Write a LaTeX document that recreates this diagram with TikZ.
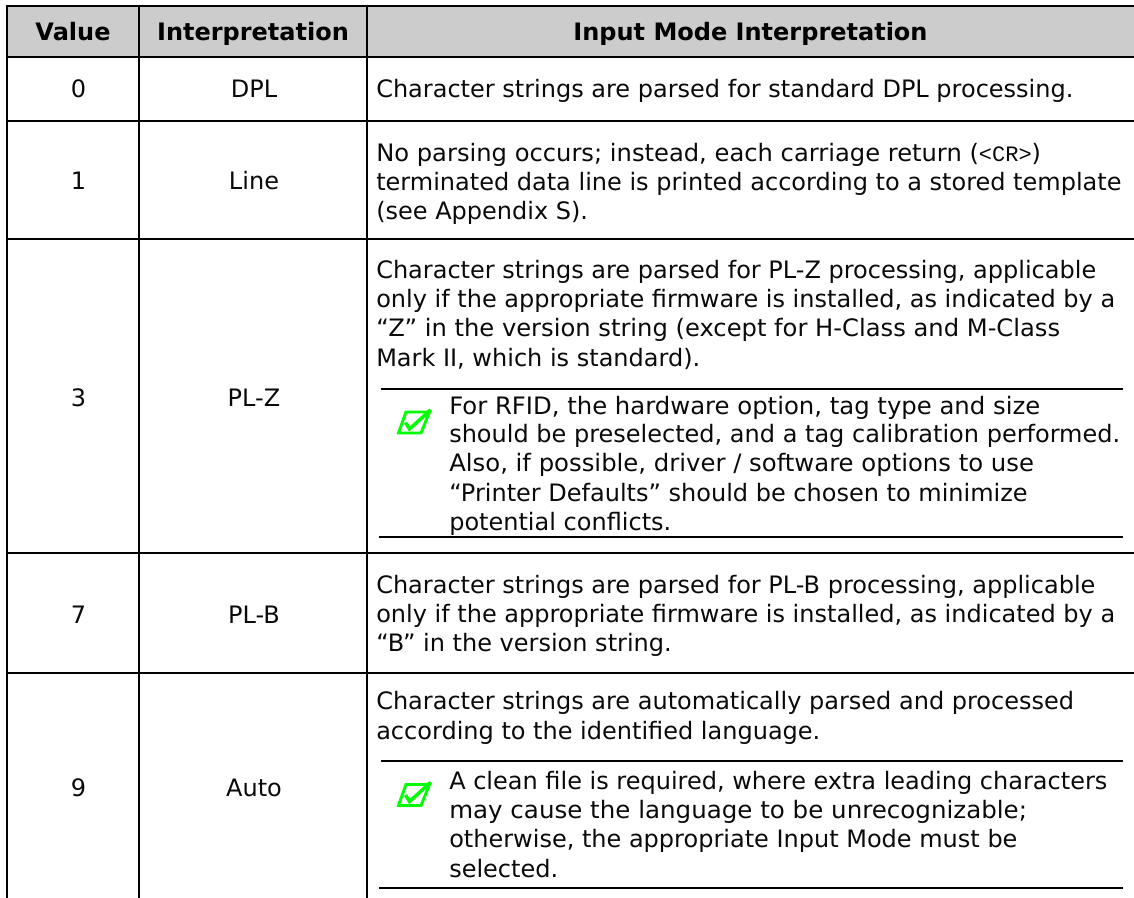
\documentclass[tikz,border=0pt]{standalone}
\usepackage{graphicx}
\usepackage{fontspec}
\setmainfont{DejaVu Sans}
\newfontfamily\crfont{Liberation Mono}
\definecolor{headgray}{RGB}{204,204,204}
\definecolor{checkgreen}{RGB}{0,255,0}
\definecolor{inkblack}{RGB}{10,10,10}
\newcommand{\widened}[2]{\scalebox{#1}[1]{#2}}
\tikzset{
  rulefull/.style={line width=1.5pt,draw=black},
  rulenote/.style={line width=1.5pt,draw=black},
  bodytext/.style={anchor=base west,inner sep=0pt,font=\fontsize{18pt}{22pt}\selectfont,text=inkblack},
  celltext/.style={anchor=base,inner sep=0pt,font=\fontsize{18pt}{22pt}\selectfont,text=inkblack},
  headtext/.style={anchor=base,inner sep=0pt,font=\fontsize{18pt}{22pt}\selectfont\bfseries,text=black},
  checkbox/.style={draw=checkgreen,line width=2.2pt,line join=miter},
  checktick/.style={draw=checkgreen,line width=2.6pt},
}
\begin{document}
\begin{tikzpicture}[x=0.75pt,y=-0.75pt]
\useasboundingbox (0,0) rectangle (1134,898);
\fill[headgray] (7,7) rectangle (1134,56);
% horizontal rules
\draw[rulefull] (6,6) -- (1134,6);
\draw[rulefull] (6,56.7) -- (1134,56.7);
\draw[rulefull] (6,120.7) -- (1134,120.7);
\draw[rulefull] (6,239) -- (1134,239);
\draw[rulefull] (6,552.7) -- (1134,552.7);
\draw[rulefull] (6,672.7) -- (1134,672.7);
% vertical rules
\draw[rulefull] (6.7,5) -- (6.7,898);
\draw[rulefull] (139.2,5) -- (139.2,898);
\draw[rulefull] (366.7,5) -- (366.7,898);
% note rules
\draw[rulenote] (381,389) -- (1123,389);
\draw[rulenote] (379,536.7) -- (1123,536.7);
\draw[rulenote] (381,761) -- (1123,761);
\draw[rulenote] (379,887.7) -- (1123,887.7);
% header
\node[headtext] (h1) at (73,40.7) {Value};
\node[headtext] (h2) at (253,40.7) {Interpretation};
\node[headtext] (h3) at (750.5,40.7) {Input Mode Interpretation};
% left columns
\node[celltext] (v0) at (78.5,97.7) {0};
\node[celltext] (i0) at (254,97.7) {DPL};
\node[celltext] (v1) at (78.5,190) {1};
\node[celltext] (i1) at (254,190) {Line};
\node[celltext] (v3) at (78.5,406) {3};
\node[celltext] (i3) at (254,406) {PL-Z};
\node[celltext] (v7) at (78.5,623.3) {7};
\node[celltext] (i7) at (254,623.3) {PL-B};
\node[celltext] (v9) at (78.5,796.7) {9};
\node[celltext] (i9) at (254,796.7) {Auto};
% body
\node[bodytext] (r0a) at (376,97.7) {Character strings are parsed for standard DPL processing.};
\node[bodytext] (r1a) at (376,161.5) {\widened{1.0085}{No parsing occurs; instead, each carriage return (}{\crfont\fontsize{16.5pt}{18pt}\selectfont <CR>})};
\node[bodytext] (r1b) at (376,190.5) {terminated data line is printed according to a stored template};
\node[bodytext] (r1c) at (376,219.5) {(see Appendix S).};
\node[bodytext] (r3a) at (376,278.3) {Character strings are parsed for PL-Z processing, applicable};
\node[bodytext] (r3b) at (376,307.5) {only if the appropriate firmware is installed, as indicated by a};
\node[bodytext] (r3c) at (376,336.7) {\widened{1.009}{“Z” in the version string (except for H-Class and M-Class}};
\node[bodytext] (r3d) at (376,366) {Mark II, which is standard).};
\node[bodytext] (n3a) at (449,414) {\widened{1.014}{For RFID, the hardware option, tag type and size}};
\node[bodytext] (n3b) at (449,442.7) {should be preselected, and a tag calibration performed.};
\node[bodytext] (n3c) at (449,471.7) {\widened{1.014}{Also, if possible, driver / software options to use}};
\node[bodytext] (n3d) at (449,501) {“Printer Defaults” should be chosen to minimize};
\node[bodytext] (n3e) at (449,530) {potential conflicts.};
\node[bodytext] (r7a) at (376,593.3) {Character strings are parsed for PL-B processing, applicable};
\node[bodytext] (r7b) at (376,622.3) {only if the appropriate firmware is installed, as indicated by a};
\node[bodytext] (r7c) at (376,651.5) {“B” in the version string.};
\node[bodytext] (r9a) at (376,709.5) {Character strings are automatically parsed and processed};
\node[bodytext] (r9b) at (376,739) {according to the identified language.};
\node[bodytext] (n9a) at (449,789.3) {A clean file is required, where extra leading characters};
\node[bodytext] (n9b) at (449,818.5) {\widened{1.022}{may cause the language to be unrecognizable;}};
\node[bodytext] (n9c) at (449,847.5) {otherwise, the appropriate Input Mode must be};
\node[bodytext] (n9d) at (449,877.5) {selected.};
% check icons
\foreach \oy in {0,-372.5}{
\begin{scope}[yshift=\oy*-0.75pt]
\draw[checkbox] (398.5,805.5) -- (421,805.5) -- (429.5,784.5) -- (406,784.5) -- cycle;
\draw[checktick] (405.5,795) -- (409.5,801.5) -- (430.7,782.3);
\end{scope}}
\end{tikzpicture}
\end{document}
